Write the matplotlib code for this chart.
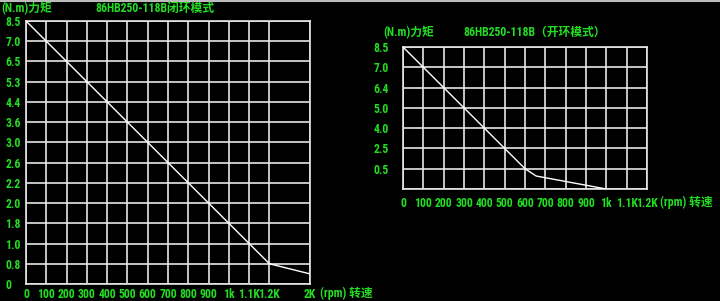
import numpy as np
import matplotlib
matplotlib.use("Agg")
import matplotlib.pyplot as plt
from matplotlib.lines import Line2D

FONT = ["Roboto Condensed", "Noto Sans CJK SC", "DejaVu Sans"]
GREEN = "#22dd22"
GRID = "#e6e6e6"
FS = 8.5

# closed loop (left chart)
closed_rpm = [0, 100, 200, 300, 400, 500, 600, 700, 800, 900, 1000, 1100, 1200, 2000]
closed_torque = [8.5, 7.0, 6.5, 5.3, 4.4, 3.6, 3.0, 2.6, 2.2, 2.0, 1.8, 1.0, 0.8, 0.4]
closed_y_ticks = [8.5, 7.0, 6.5, 5.3, 4.4, 3.6, 3.0, 2.6, 2.2, 2.0, 1.8, 1.0, 0.8, 0]
closed_y_labels = ["8.5", "7.0", "6.5", "5.3", "4.4", "3.6", "3.0", "2.6", "2.2",
                   "2.0", "1.8", "1.0", "0.8", "0"]
closed_x_ticks = [0, 100, 200, 300, 400, 500, 600, 700, 800, 900, 1000, 1100, 1200, 2000]
closed_x_pos = [0, 1, 2, 3, 4, 5, 6, 7, 8, 9, 10, 11, 12, 14]
closed_x_labels = ["0", "100", "200", "300", "400", "500", "600", "700", "800",
                   "900", "1k", "1.1K", "1.2K", "2K"]

# open loop (right chart)
open_rpm = [0, 100, 200, 300, 400, 500, 600, 655, 1000]
open_torque = [8.5, 7.0, 6.4, 5.0, 4.0, 2.5, 0.5, 0.32, 0]
open_y_ticks = [8.5, 7.0, 6.4, 5.0, 4.0, 2.5, 0.5, 0]
open_y_labels = ["8.5", "7.0", "6.4", "5.0", "4.0", "2.5", "0.5", ""]
open_x_ticks = [0, 100, 200, 300, 400, 500, 600, 700, 800, 900, 1000, 1100, 1200]
open_x_pos = list(range(13))
open_x_labels = ["0", "100", "200", "300", "400", "500", "600", "700", "800",
                 "900", "1k", "1.1K", "1.2K"]

W, H = 720, 301


def interp_scale(vals, pos):
    order = np.argsort(vals)
    v = np.asarray(vals, float)[order]
    p = np.asarray(pos, float)[order]
    fwd = lambda x: np.interp(x, v, p)
    inv = lambda x: np.interp(x, p, v)
    return fwd, inv


def torque_chart(fig, box, rpm, torque, xt, xpos, xl, yt, yl, ypad, xpad):
    x0, y0, x1, y1 = box
    ax = fig.add_axes([x0 / W, (H - y1) / H, (x1 - x0) / W, (y1 - y0) / H])
    ax.set_facecolor("black")
    ax.set_xscale("function", functions=interp_scale(xt, xpos))
    ax.set_yscale("function", functions=interp_scale(yt, list(range(len(yt)))[::-1]))
    ax.plot(rpm, torque, color="white", linewidth=1.0, zorder=3)
    ax.set_xlim(min(xt), max(xt))
    ax.set_ylim(min(yt), max(yt))
    ax.set_xticks(xt, xl)
    ax.set_yticks(yt, yl)
    ax.grid(True, color=GRID, linewidth=1.2)
    for s in ax.spines.values():
        s.set_color(GRID)
        s.set_linewidth(1.2)
    ax.tick_params(length=0, colors=GREEN)
    ax.tick_params(axis="y", pad=ypad)
    ax.tick_params(axis="x", pad=xpad)
    for t in ax.get_yticklabels():
        t.set_ha("left")
        t.set_family(FONT)
        t.set_fontsize(FS)
        t.set_weight("bold")
    for t in ax.get_xticklabels():
        t.set_family(FONT)
        t.set_fontsize(FS)
        t.set_weight("bold")
    return ax


fig = plt.figure(figsize=(7.2, 3.01), dpi=100, facecolor="black")

torque_chart(fig, (26, 21, 310, 284), closed_rpm, closed_torque,
             closed_x_ticks, closed_x_pos, closed_x_labels,
             closed_y_ticks, closed_y_labels, ypad=15, xpad=3)
torque_chart(fig, (403, 47, 647, 189), open_rpm, open_torque,
             open_x_ticks, open_x_pos, open_x_labels,
             open_y_ticks, open_y_labels, ypad=21.5, xpad=6)


def px_text(x, y, s, ha="left"):
    fig.text(x / W, (H - y) / H, s, color=GREEN, family=FONT, fontsize=FS,
             weight="bold", ha=ha, va="center")


px_text(1, 8, "(N.m)力矩")
px_text(95, 8, "86HB250-118B闭环模式")
px_text(320, 293, "(rpm) 转速")
px_text(660, 202, "(rpm) 转速")
px_text(383, 32, "(N.m)力矩")
px_text(463, 32, "86HB250-118B（开环模式）")

fig.add_artist(Line2D([0, 1], [0.998, 0.998], color="#bbbbbb", linewidth=1.5))

fig.savefig("out.png", dpi=100, facecolor="black")
